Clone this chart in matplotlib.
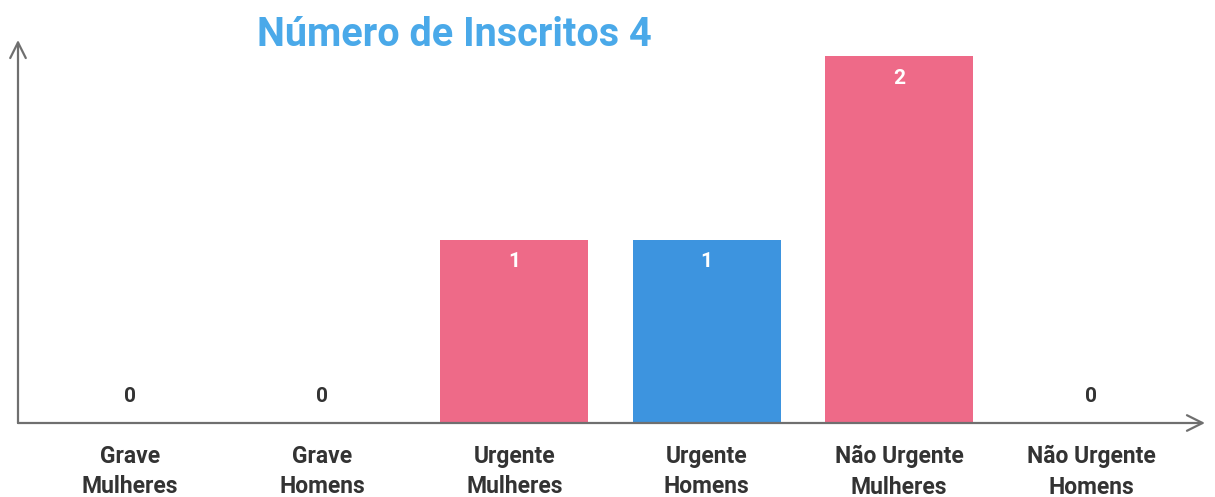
import matplotlib.pyplot as plt

categories = ["Grave\nMulheres", "Grave\nHomens", "Urgente\nMulheres",
              "Urgente\nHomens", "Não Urgente\nMulheres", "Não Urgente\nHomens"]
values = [0, 0, 1, 1, 2, 0]
title = "Número de Inscritos 4"

pink = "#ee6a88"
blue = "#3d94df"
bar_colors = [pink, blue, pink, blue, pink, blue]

plt.rcParams['font.family'] = ['Roboto', 'DejaVu Sans']

fig = plt.figure(figsize=(12.15, 4.97), dpi=100)
ax = fig.add_axes([18 / 1215, 74 / 497, 1187 / 1215, 383 / 497])

x = list(range(len(categories)))
bars = ax.bar(x, values, width=0.77, color=bar_colors, zorder=2)

ax.set_xlim(-0.58, 5.59)
ax.set_ylim(0, 2.09)

for rect, v in zip(bars, values):
    cx = rect.get_x() + rect.get_width() / 2
    if v > 0:
        ax.annotate(str(v), (cx, v), xytext=(0, -16), textcoords="offset points",
                    ha="center", va="center", color="white",
                    fontsize=15, fontweight="bold")
    else:
        ax.annotate(str(v), (cx, 0), xytext=(0, 19), textcoords="offset points",
                    ha="center", va="center", color="#333333",
                    fontsize=15, fontweight="bold")

ax.set_xticks(x)
ax.set_xticklabels(categories, fontsize=16.5, fontweight="bold", color="#333333",
                   linespacing=1.4)
ax.tick_params(axis="x", length=0, pad=16)
ax.set_yticks([])

for s in ax.spines.values():
    s.set_visible(False)

# axis arrows
ax.annotate("", xy=(1.0, 0), xytext=(0, 0), xycoords="axes fraction",
            arrowprops=dict(arrowstyle="->", color="#6f6f6f", lw=1.6,
                            mutation_scale=28, shrinkA=0, shrinkB=0))
ax.annotate("", xy=(0, 1.0), xytext=(0, 0), xycoords="axes fraction",
            arrowprops=dict(arrowstyle="->", color="#6f6f6f", lw=1.6,
                            mutation_scale=28, shrinkA=0, shrinkB=0))

fig.text(454 / 1215, 1 - 35 / 497, title, ha="center", va="center",
         fontsize=28.5, fontweight="bold", color="#4aa9e9")

fig.savefig("out.png", dpi=100)
